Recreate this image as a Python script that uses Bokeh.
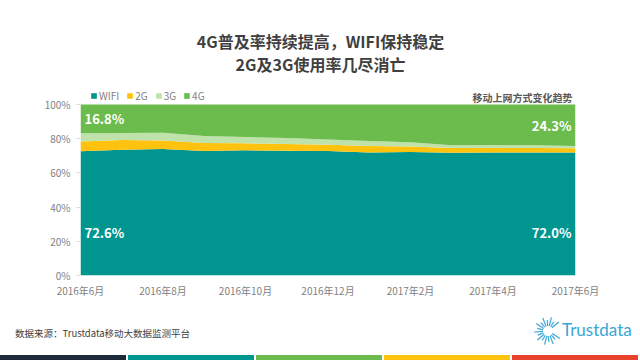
import math
from bokeh.plotting import figure
from bokeh.layouts import column
from bokeh.models import ColumnDataSource, Label, Legend, FixedTicker, PrintfTickFormatter, Range1d, Div
from bokeh.core.properties import value
from bokeh.embed import file_html
from bokeh.resources import INLINE

months = ["2016年6月", "2016年7月", "2016年8月", "2016年9月", "2016年10月", "2016年11月",
          "2016年12月", "2017年1月", "2017年2月", "2017年3月", "2017年4月", "2017年5月", "2017年6月"]
wifi = [72.6, 73.6, 74.0, 72.8, 73.2, 73.0, 72.8, 72.0, 72.2, 71.8, 72.0, 72.0, 72.0]
g2 = [5.7, 5.6, 5.0, 4.7, 4.1, 3.9, 3.7, 3.7, 3.3, 2.8, 2.6, 2.6, 2.4]
g3 = [4.9, 4.1, 4.5, 4.1, 3.7, 3.5, 3.1, 2.9, 2.4, 1.5, 1.7, 1.5, 1.3]
g4 = [16.8, 16.7, 16.5, 18.4, 19.0, 19.6, 20.4, 21.4, 22.1, 23.9, 23.7, 23.9, 24.3]
series = ["WIFI", "2G", "3G", "4G"]
colors = ["#00968F", "#FFC20E", "#BFE1AA", "#6BBC4C"]
footer_colors = ["#1C2A3A", "#00968F", "#6BBC4C", "#FFC20E", "#E8412C"]

FONT = "Noto Sans CJK SC"
x = list(range(len(months)))
source = ColumnDataSource(dict(x=x, WIFI=wifi, **{"2G": g2, "3G": g3, "4G": g4}))

# frame spans from the top of the page to the bottom of the plot area;
# the 0-100 scale occupies its lower 171 px
FRAME_H = 275
PLOT_H = 171
p = figure(width=640, height=305, output_backend="svg", toolbar_location=None,
           min_border_left=80, min_border_right=65, min_border_top=0, min_border_bottom=30,
           x_range=Range1d(0, len(months) - 1), y_range=Range1d(0, 100 * FRAME_H / PLOT_H))
p.title.visible = False
p.outline_line_color = None
p.xgrid.grid_line_color = None
p.ygrid.grid_line_color = None

renderers = p.varea_stack(stackers=series, x="x", color=colors, source=source)

legend = Legend(items=[(s, [r]) for s, r in zip(series, renderers)], orientation="horizontal",
                location=(10, PLOT_H + 1), label_text_font=FONT, label_text_font_size="10px",
                label_text_color="#7f7f7f", glyph_width=7, glyph_height=7, spacing=7,
                label_standoff=2, label_width=5, padding=0, margin=0, background_fill_alpha=0,
                border_line_color=None, label_height=10)
p.add_layout(legend, "center")

# axes
p.yaxis.ticker = FixedTicker(ticks=[0, 20, 40, 60, 80, 100])
p.yaxis.formatter = PrintfTickFormatter(format="%d%%")
p.xaxis.ticker = FixedTicker(ticks=x[::2])
p.xaxis.major_label_overrides = {i: months[i] for i in x}
for ax in (p.xaxis, p.yaxis):
    ax.axis_line_color = None
    ax.major_tick_line_color = "#d9d9d9"
    ax.major_tick_out = 4
    ax.major_tick_in = 0
    ax.minor_tick_line_color = None
    ax.major_label_text_font = FONT
    ax.major_label_text_font_size = "10px"
    ax.major_label_text_color = "#7f7f7f"
p.xaxis.major_tick_line_color = None
p.yaxis.major_label_standoff = 6
p.xaxis.major_label_standoff = 3

# value annotations
first, last = 0, len(months) - 1
ann = ColumnDataSource(dict(
    x=[first, first, last, last],
    y=[100 - g4[first] / 2, wifi[first] * 0.35, 100 - g4[last] / 2, wifi[last] * 0.35],
    t=[f"{g4[first]}%", f"{wifi[first]}%", f"{g4[last]}%", f"{wifi[last]}%"],
    xo=[4, 4, -4, -4],
    a=["left", "left", "right", "right"],
))
p.text(x="x", y="y", text="t", x_offset="xo", text_align="a", text_baseline="middle",
       text_font=value(FONT), text_font_size="13px", text_font_style="bold",
       text_color="white", source=ann)


def lab(fig, txt, xx, yy, size, color, bold=False, align="left", font=FONT):
    fig.add_layout(Label(x=xx, y=yy, x_units="screen", y_units="screen", text=txt,
                         text_font=font, text_font_size=size, text_color=color,
                         text_font_style="bold" if bold else "normal",
                         text_align=align, text_baseline="middle"))


lab(p, "4G普及率持续提高，WIFI保持稳定", 240, FRAME_H - 40, "16px", "#3F3F3F", True, "center")
lab(p, "2G及3G使用率几尽消亡", 240, FRAME_H - 63, "16px", "#3F3F3F", True, "center")
lab(p, "移动上网方式变化趋势", 492, FRAME_H - 97, "10px", "#595959", True, "right")

# footer (HTML): source note, logo and coloured bars
n = len(footer_colors)
seg_w = 640 / n
bars = "".join(
    f'<div style="position:absolute;left:{i * seg_w:.1f}px;top:50px;width:{seg_w - 2:.1f}px;'
    f'height:5px;background:{c}"></div>' for i, c in enumerate(footer_colors))
cx, cy = 15, 16
angs = list(range(40, 330, 18))
rays = "".join(
    f'<line x1="{cx + 5 * math.cos(math.radians(a)):.1f}" y1="{cy - 5 * math.sin(math.radians(a)):.1f}" '
    f'x2="{cx + (14 if k % 2 == 0 else 11) * math.cos(math.radians(a)):.1f}" '
    f'y2="{cy - (14 if k % 2 == 0 else 11) * math.sin(math.radians(a)):.1f}" '
    f'stroke="#3AA6D6" stroke-width="1.2"/>' for k, a in enumerate(angs))
footer_html = (
    f'<div style="position:relative;width:640px;height:55px;">'
    f'<div style="position:absolute;left:15px;top:22px;font-family:\'{FONT}\';font-size:9.5px;'
    f'line-height:12px;color:#404040;white-space:nowrap">数据来源：Trustdata移动大数据监测平台</div>'
    f'<svg style="position:absolute;left:533px;top:10px" width="32" height="32">{rays}</svg>'
    f'<div style="position:absolute;left:562px;top:15px;font-family:Lato;font-size:17px;'
    f'line-height:20px;color:#3AA6D6;white-space:nowrap">Trustdata</div>'
    f'{bars}</div>'
)
footer = Div(text=footer_html, width=640, height=55, margin=0)

layout = column(p, footer, spacing=0)
html = file_html(layout, INLINE)
open("out.html", "w").write(html)
